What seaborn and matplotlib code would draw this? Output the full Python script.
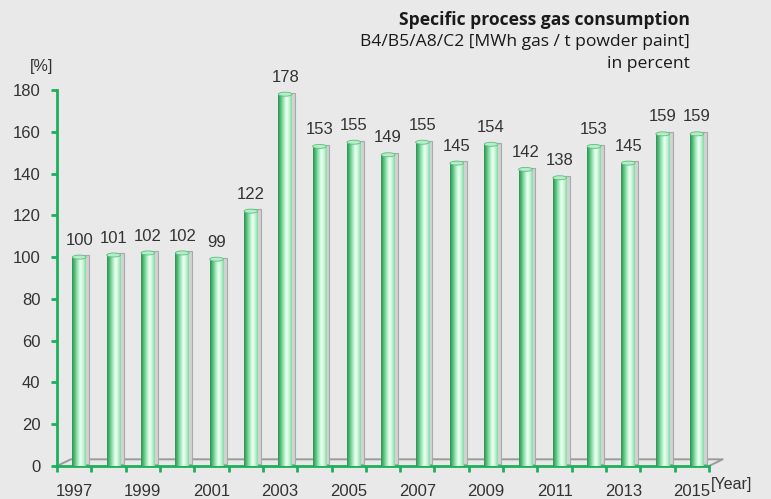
import numpy as np
import pandas as pd
import matplotlib
matplotlib.use("Agg")
import matplotlib.pyplot as plt
import seaborn as sns
from matplotlib.colors import LinearSegmentedColormap
from matplotlib.patches import Rectangle, Ellipse

years = [1997, 1998, 1999, 2000, 2001, 2002, 2003, 2004, 2005, 2006,
         2007, 2008, 2009, 2010, 2011, 2012, 2013, 2014, 2015]
values = [100, 101, 102, 102, 99, 122, 178, 153, 155, 149,
          155, 145, 154, 142, 138, 153, 145, 159, 159]
year_labels = [str(y) if (y - 1997) % 2 == 0 else "" for y in years]
y_ticks = list(range(0, 181, 20))

title_lines = ["Specific process gas consumption",
               "B4/B5/A8/C2 [MWh gas / t powder paint]",
               "in percent"]

BG = "#e9e9e9"
AXIS_GREEN = "#1fae5c"
TEXT = "#333333"

sns.set_theme(style="white")
plt.rcParams["font.family"] = ["Liberation Sans", "DejaVu Sans"]

df = pd.DataFrame({"year": [str(y) for y in years], "value": values})

W, H = 771, 499
fig = plt.figure(figsize=(W / 100, H / 100), dpi=100, facecolor=BG)
left, right, bottom, top = 57, 709, 466, 90
ax = fig.add_axes([left / W, 1 - bottom / H, (right - left) / W, (bottom - top) / H])
ax.set_facecolor(BG)

sns.barplot(data=df, x="year", y="value", ax=ax, color="#6fd596",
            width=0.4, saturation=1, zorder=3)

ax.set_xlim(-0.5, len(years) - 0.5)
ax.set_ylim(0, 180)

# cylinder shading for each bar
cyl = LinearSegmentedColormap.from_list(
    "cyl", ["#2f8f50", "#56c27d", "#9fe8b9", "#f0fff4", "#c8f5d7", "#7fd9a0"])
grad = np.linspace(0, 1, 64).reshape(1, -1)
shift = 0.15
px_per_unit = (bottom - top) / 180.0
for p, v in zip(ax.patches, values):
    x0 = p.get_x() + shift
    w = p.get_width()
    p.set_x(x0)
    p.set_visible(False)
    # back shadow giving the depth effect
    ax.add_patch(Rectangle((x0 + 0.09, 0.8), w, v, facecolor="#d2d2d2",
                           edgecolor="#a9a9a9", linewidth=0.8, zorder=2))
    ax.imshow(grad, cmap=cyl, aspect="auto", extent=(x0, x0 + w, 0, v),
              zorder=3, interpolation="bicubic")
    cap_h = 4.0 / px_per_unit
    ax.add_patch(Ellipse((x0 + w / 2, v), w, cap_h, facecolor="#b5efc8",
                         edgecolor="#5cbf80", linewidth=0.6, zorder=4))
    ax.text(x0 + w / 2, v + 4.5, str(v), ha="center", va="bottom",
            fontsize=12, color=TEXT, zorder=5)

# floor of the chart in perspective
ax.plot([-0.5, -0.1, len(years) - 0.1, len(years) - 0.5],
        [0, 3.2, 3.2, 0], color="#9a9a9a", lw=1.4, zorder=1,
        clip_on=False)

ax.set_aspect("auto")
ax.set_xlabel("")
ax.set_ylabel("")
ax.set_yticks(y_ticks)
ax.set_yticklabels([str(t) for t in y_ticks], fontsize=12, color=TEXT)
ax.set_xticks(range(len(years)))
ax.set_xticklabels(year_labels, fontsize=12, color=TEXT)
ax.tick_params(axis="x", which="major", length=0, pad=13)
ax.tick_params(axis="y", which="major", left=True, length=4, width=2,
               color=AXIS_GREEN, direction="out", pad=8)

# green axis lines with short marks on category boundaries
for s in ["top", "right"]:
    ax.spines[s].set_visible(False)
for s in ["left", "bottom"]:
    ax.spines[s].set_color(AXIS_GREEN)
    ax.spines[s].set_linewidth(2)
ax.set_xticks(np.arange(-0.5, len(years), 1.0), minor=True)
ax.tick_params(axis="x", which="minor", bottom=True, length=4, width=2,
               color=AXIS_GREEN, direction="out")

fig.text(30 / W, 1 - 66 / H, "[%]", fontsize=11.5, color=TEXT, ha="left",
         va="center")
fig.text(711 / W, 1 - 484 / H, "[Year]", fontsize=11.5, color=TEXT,
         ha="left", va="center")

fig.text(690 / W, 1 - 20 / H, title_lines[0], ha="right", va="center",
         fontsize=12.6, fontweight="bold", color="#1a1a1a", family="Open Sans")
fig.text(690 / W, 1 - 42 / H, title_lines[1], ha="right", va="center",
         fontsize=12.6, color="#1a1a1a", family="Open Sans")
fig.text(690 / W, 1 - 64 / H, title_lines[2], ha="right", va="center",
         fontsize=12.6, color="#1a1a1a", family="Open Sans")

fig.savefig("out.png", dpi=100, facecolor=BG)
